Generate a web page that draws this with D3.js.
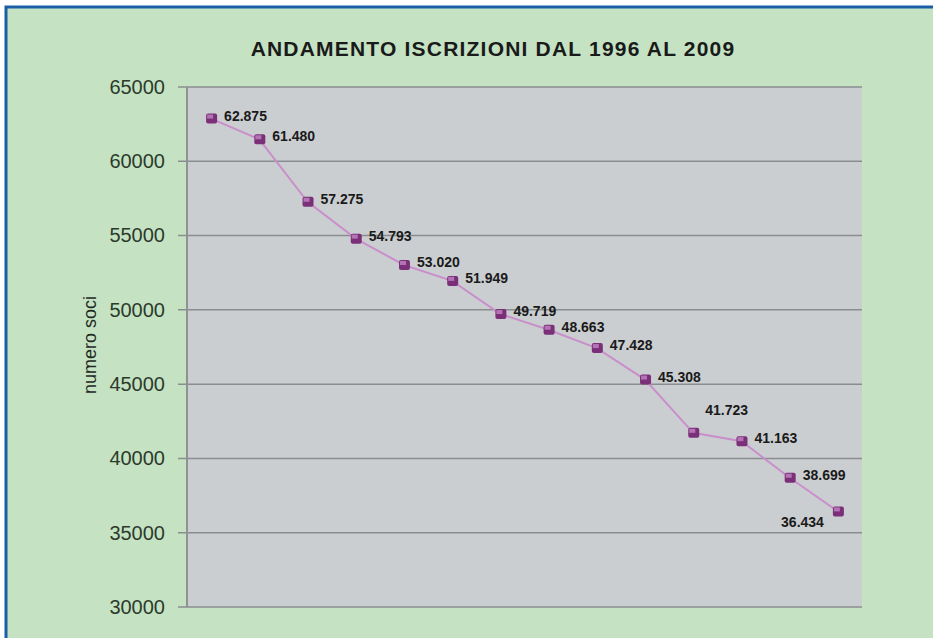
<!DOCTYPE html>
<html>
<head>
<meta charset="utf-8">
<script src="https://cdn.jsdelivr.net/npm/d3@7"></script>
<style>
  body { margin: 0; background: #fff; }
  svg { display: block; }
</style>
</head>
<body>
<div id="chart"></div>
<script>
// dati iscrizioni
var anni = ["1996", "1997", "1998", "1999", "2000", "2001", "2002", "2003", "2004", "2005", "2006", "2007", "2008", "2009"];
var soci = [62875, 61480, 57275, 54793, 53020, 51949, 49719, 48663, 47428, 45308, 41723, 41163, 38699, 36434];
var yTicks = [30000, 35000, 40000, 45000, 50000, 55000, 60000, 65000];
var titolo = "ANDAMENTO ISCRIZIONI DAL 1996 AL 2009";

var W = 933, H = 638;
var margin = {top: 87, right: 71, bottom: 31, left: 187};
var width = W - margin.left - margin.right;
var height = H - margin.top - margin.bottom;

var svg = d3.select("#chart").append("svg")
    .attr("width", W)
    .attr("height", H);

// cornice verde con bordo blu
svg.append("rect")
    .attr("x", 6).attr("y", 7)
    .attr("width", W + 10).attr("height", H + 10)
    .attr("fill", "#c5e3c3")
    .attr("stroke", "#1b5ea6")
    .attr("stroke-width", 3);

svg.append("text")
    .attr("x", 493).attr("y", 56)
    .attr("text-anchor", "middle")
    .style("font-family", "'Liberation Sans', Arial, sans-serif")
    .style("font-weight", "bold")
    .style("font-size", "21px")
    .style("letter-spacing", "1.2px")
    .style("fill", "#1a1a1a")
    .text(titolo);

var g = svg.append("g")
    .attr("transform", "translate(" + margin.left + "," + margin.top + ")");

var x = d3.scalePoint().domain(anni).range([0, width]).padding(0.5);
var y = d3.scaleLinear().domain([30000, 65000]).range([height, 0]);

// area del grafico
g.append("rect")
    .attr("width", width).attr("height", height)
    .attr("rx", 4)
    .attr("fill", "#cbced1");

// griglia
g.selectAll(".grid").data(yTicks).enter().append("line")
    .attr("class", "grid")
    .attr("x1", -9).attr("x2", width)
    .attr("y1", function (d) { return y(d); })
    .attr("y2", function (d) { return y(d); })
    .attr("stroke", "#8a8d8f")
    .attr("stroke-width", 1.5);

g.append("line")
    .attr("x1", 0).attr("x2", 0)
    .attr("y1", 0).attr("y2", height)
    .attr("stroke", "#8f9294")
    .attr("stroke-width", 2);

var yAxis = d3.axisLeft(y).tickValues(yTicks).tickSize(0).tickPadding(22)
    .tickFormat(d3.format("d"));
var ya = g.append("g").call(yAxis);
ya.select(".domain").remove();
ya.selectAll("text")
    .style("font-family", "'Liberation Sans', Arial, sans-serif")
    .style("font-size", "20px")
    .style("fill", "#2c3a2c");

svg.append("text")
    .attr("transform", "translate(96," + (margin.top + height / 2 - 2) + ") rotate(-90)")
    .attr("text-anchor", "middle")
    .style("font-family", "'Liberation Sans', Arial, sans-serif")
    .style("font-size", "18px")
    .style("fill", "#1f2a1f")
    .text("numero soci");

// linea
var line = d3.line()
    .x(function (d, i) { return x(anni[i]); })
    .y(function (d) { return y(d); });

g.append("path")
    .datum(soci)
    .attr("d", line)
    .attr("fill", "none")
    .attr("stroke", "#c98fcb")
    .attr("stroke-width", 2);

// marcatori
var m = g.selectAll(".pt").data(soci).enter().append("g")
    .attr("transform", function (d, i) { return "translate(" + x(anni[i]) + "," + y(d) + ")"; });
m.append("rect")
    .attr("x", -5).attr("y", -5).attr("width", 11).attr("height", 10)
    .attr("rx", 2)
    .attr("fill", "#7a2f78");
m.append("rect")
    .attr("x", -4).attr("y", -4).attr("width", 6).attr("height", 4)
    .attr("fill", "#b374b3");

// etichette valori
var fmt = function (v) { return d3.format(",")(v).replace(/,/g, "."); };
g.selectAll(".lbl").data(soci).enter().append("text")
    .attr("x", function (d, i) {
        if (i === 13) return x(anni[i]) - 14;
        if (i === 10) return x(anni[i]) + 12;
        return x(anni[i]) + 13;
    })
    .attr("y", function (d, i) {
        if (i === 13) return y(d) + 16;
        if (i === 10) return y(d) - 18;
        return y(d) + 2;
    })
    .attr("text-anchor", function (d, i) { return i === 13 ? "end" : "start"; })
    .style("font-family", "'Liberation Sans', Arial, sans-serif")
    .style("font-weight", "bold")
    .style("font-size", "14px")
    .style("fill", "#1a1a1a")
    .text(function (d) { return fmt(d); });
</script>
</body>
</html>
